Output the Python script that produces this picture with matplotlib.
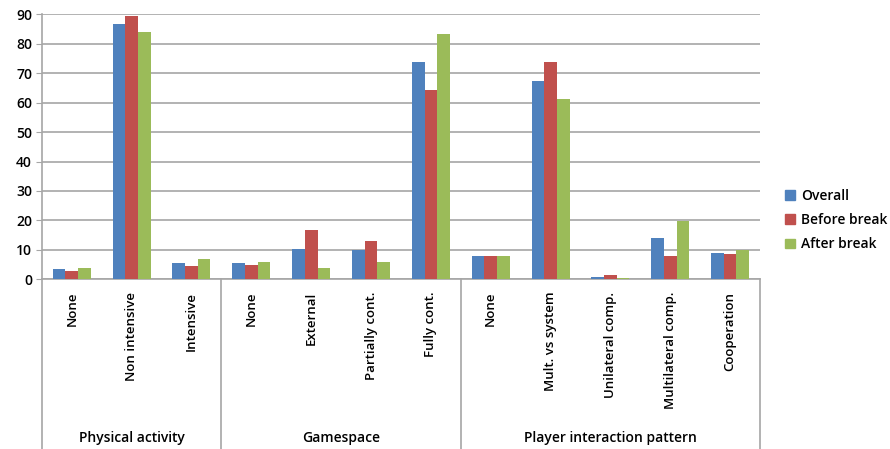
import numpy as np
import matplotlib
matplotlib.use("Agg")
import matplotlib.pyplot as plt
from matplotlib.patches import Patch

plt.rcParams['font.family'] = ['Open Sans', 'DejaVu Sans']

categories = ["None", "Non intensive", "Intensive",
              "None", "External", "Partially cont.", "Fully cont.",
              "None", "Mult. vs system", "Unilateral comp.", "Multilateral comp.", "Cooperation"]
groups = ["Physical activity", "Gamespace", "Player interaction pattern"]
group_sizes = [3, 4, 5]

overall = [3.4, 86.7, 5.4, 5.4, 10.2, 10.0, 73.9, 8.0, 67.4, 0.9, 14.0, 8.8]
before_break = [2.8, 89.3, 4.6, 5.0, 16.7, 13.1, 64.3, 8.0, 73.7, 1.3, 8.0, 8.5]
after_break = [3.8, 84.1, 6.8, 5.9, 3.7, 5.9, 83.3, 8.0, 61.3, 0.4, 19.9, 10.0]

series = [("Overall", overall, "#4F81BD"),
          ("Before break", before_break, "#C0504D"),
          ("After break", after_break, "#9BBB59")]

fig = plt.figure(figsize=(8.9, 4.49), dpi=100)
ax = fig.add_axes([0.047, 0.378, 0.807, 0.590])

x = np.arange(len(categories))
bw = 0.212
for i, (name, vals, col) in enumerate(series):
    ax.bar(x + (i - 1) * bw, vals, width=bw, color=col, label=name, zorder=3)

ax.set_xlim(-0.5, len(categories) - 0.5)
ax.set_ylim(0, 90)
ax.set_yticks(np.arange(0, 91, 10))
ax.yaxis.grid(True, color="#a6a6a6", linewidth=1.2, zorder=0)
ax.tick_params(axis="y", labelsize=10, length=4, color="#a6a6a6", pad=3)
for lab in ax.get_yticklabels():
    lab.set_fontweight("semibold")

ax.set_xticks(x)
ax.set_xticklabels(categories, rotation=90, va="top", fontsize=9.5, fontweight="semibold")
ax.tick_params(axis="x", length=0, pad=9)

for s in ["top", "right"]:
    ax.spines[s].set_visible(False)
for s in ["left", "bottom"]:
    ax.spines[s].set_color("#a6a6a6")
    ax.spines[s].set_linewidth(1.2)

# group separators and group titles below the category axis
trans = ax.get_xaxis_transform()
bottom = -0.66
bounds = np.concatenate([[0], np.cumsum(group_sizes)]) - 0.5
for b in bounds:
    ax.plot([b, b], [0, bottom], transform=trans, color="#a6a6a6", lw=1.2, clip_on=False)
for g, lo, hi in zip(groups, bounds[:-1], bounds[1:]):
    ax.text((lo + hi) / 2, -0.60, g, transform=trans, ha="center", va="center",
            fontsize=10, fontweight="semibold")

handles = [Patch(color=c, label=n) for n, _, c in series]
fig.legend(handles=handles, loc="center left", bbox_to_anchor=(0.868, 0.51),
           frameon=False, handlelength=0.7, handleheight=0.7,
           handletextpad=0.45, labelspacing=0.75,
           prop={"weight": "semibold", "size": 10})

fig.savefig("out.png", dpi=100)
